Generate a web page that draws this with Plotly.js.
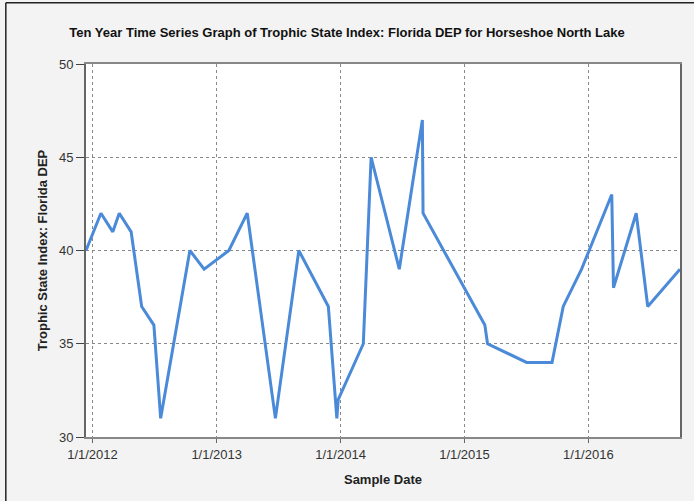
<!DOCTYPE html>
<html>
<head>
<meta charset="utf-8">
<script src="https://cdn.plot.ly/plotly-3.0.1.min.js"></script>
<style>html,body{margin:0;padding:0;background:#f3f3f3;}#chart{width:694px;height:501px;}</style>
</head>
<body>
<div id="chart"></div>
<script>
var sampleDates = ["2011-12-13","2012-01-26","2012-03-01","2012-03-20","2012-04-24","2012-05-25","2012-06-30","2012-07-20","2012-10-14","2012-11-25","2013-02-06","2013-04-01","2013-06-23","2013-08-31","2013-11-26","2013-12-21","2013-12-25","2014-03-09","2014-04-01","2014-06-23","2014-08-30","2014-09-01","2015-03-02","2015-03-10","2015-07-03","2015-09-16","2015-10-19","2015-12-12","2016-03-10","2016-03-15","2016-05-21","2016-06-24","2016-09-27"];
var tsiValues = [40,42,41,42,41,37,36,31,40,39,40,42,31,40,37,31,32,35,45,39,47,42,36,35,34,34,37,39,43,38,42,37,39];
var xTickVals = ["2012-01-01","2013-01-01","2014-01-01","2015-01-01","2016-01-01"];
var xTickText = ["1/1/2012","1/1/2013","1/1/2014","1/1/2015","1/1/2016"];
var yTickVals = [30,35,40,45,50];

var trace = {
  x: sampleDates, y: tsiValues, type: 'scatter', mode: 'lines',
  line: {color: '#4a8ad9', width: 3},
  hoverinfo: 'x+y'
};
var fnt = {family: 'Liberation Sans, Arial, sans-serif', size: 13, color: '#333'};
var tfnt = {family: 'Liberation Sans, Arial, sans-serif', size: 13, color: '#222'};
var layout = {
  width: 694, height: 501,
  paper_bgcolor: '#f3f3f3', plot_bgcolor: '#ffffff',
  margin: {l: 86, r: 14, t: 64, b: 64, pad: 0},
  showlegend: false,
  title: {text: '<b>Ten Year Time Series Graph of Trophic State Index: Florida DEP for Horseshoe North Lake</b>',
          font: {family: 'Liberation Sans, Arial, sans-serif', size: 13, color: '#111'},
          x: 0.5, xanchor: 'center', y: 0.935, yanchor: 'middle'},
  xaxis: {
    type: 'date', range: [sampleDates[0], sampleDates[sampleDates.length-1]],
    tickmode: 'array', tickvals: xTickVals, ticktext: xTickText,
    tickfont: fnt, ticks: 'outside', ticklen: 4, tickcolor: '#666',
    showgrid: true, gridcolor: '#888', griddash: 'dot', gridwidth: 1,
    showline: true, linecolor: '#888', linewidth: 2, mirror: true,
    zeroline: false,
    title: {text: '<b>Sample Date</b>', font: tfnt, standoff: 14}
  },
  yaxis: {
    range: [30, 50], tickmode: 'array', tickvals: yTickVals,
    tickfont: fnt, ticks: 'outside', ticklen: 8, tickcolor: '#444',
    showgrid: true, gridcolor: '#888', griddash: 'dot', gridwidth: 1,
    showline: true, linecolor: '#666', linewidth: 2, mirror: true,
    zeroline: false,
    title: {text: '<b>Trophic State Index: Florida DEP</b>', font: tfnt, standoff: 8}
  },
  shapes: [
    {type: 'line', xref: 'paper', yref: 'paper', x0: -0.135, x1: 1.03, y0: 1.164, y1: 1.164, line: {color: '#222', width: 1.5}},
    {type: 'line', xref: 'paper', yref: 'paper', x0: -0.135, x1: -0.135, y0: 1.164, y1: -0.2, line: {color: '#222', width: 1.5}}
  ]
};
Plotly.newPlot('chart', [trace], layout, {displayModeBar: false, staticPlot: true});
</script>
</body>
</html>
